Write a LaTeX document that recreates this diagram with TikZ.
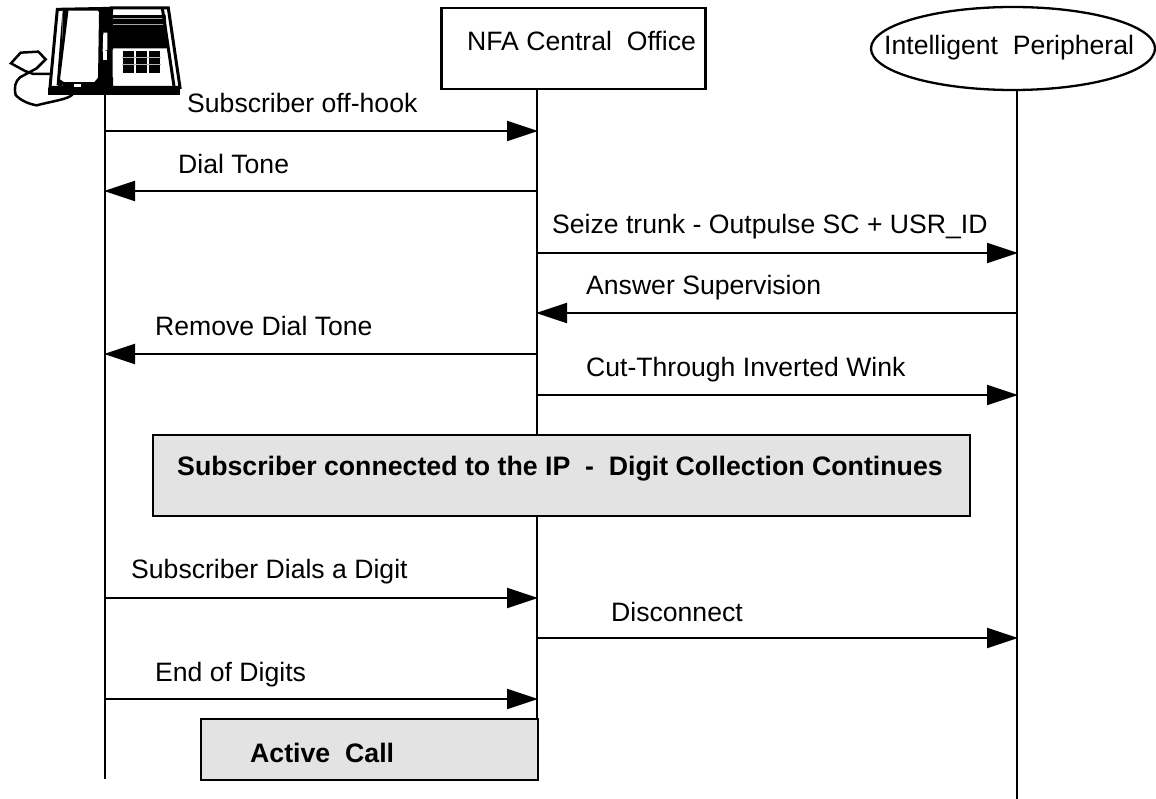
\documentclass[tikz,border=0pt]{standalone}
\usepackage{fontspec}
\setmainfont{Liberation Sans}
\usetikzlibrary{arrows.meta,shapes.geometric}
\definecolor{boxgray}{gray}{0.89}
\tikzset{
  life/.style={line width=2.3pt,black},
  msg/.style={line width=2.3pt,black,-{Triangle[length=31pt,width=20pt]},shorten >=-1pt},
  lbl/.style={anchor=base west,inner sep=0pt,font=\fontsize{26.6}{30}\selectfont},
  boldlbl/.style={anchor=base west,inner sep=0pt,font=\fontsize{26.7}{30}\selectfont\bfseries},
  headbox/.style={draw=black,line width=2.3pt,fill=white,inner sep=0pt},
  graybox/.style={draw=black,line width=2.6pt,fill=boxgray,inner sep=0pt},
}
\begin{document}
\begin{tikzpicture}[x=1pt,y=-1pt]
\useasboundingbox[fill=white] (0,0) rectangle (1156,799);
% lifeline anchors
\coordinate (phoneBot) at (105,779);
\coordinate (phoneTop) at (105,90);
\coordinate (coTop) at (537,89);
\coordinate (coBot) at (537,780);
\coordinate (ipTop) at (1017,89);
\coordinate (ipBot) at (1017,799);
\draw[life] (phoneTop) -- (phoneBot);
\draw[life] (coTop) -- (coBot);
\draw[life] (ipTop) -- (ipBot);
% head nodes
\node[headbox,minimum width=264pt,minimum height=81pt] (co) at (573.5,48.5) {};
\node[headbox,ellipse,minimum width=284pt,minimum height=83pt] (ip) at (1013,48.5) {};
\node[lbl] (cot) at (467,50.5) {NFA Central\ \ Office};
\node[lbl] (ipt) at (884,55) {Intelligent\ \ Peripheral};
% telephone
\begin{scope}[x=0.3333pt,y=-0.3333pt]
  \draw[line width=2.5pt,fill=white] (218,283) .. controls (205,298) and (160,303) .. (110,316)
     .. controls (85,312) and (60,300) .. (47,285)
     .. controls (42,262) and (45,245) .. (60,232)
     -- (110,205) -- (137,178) -- (115,155) -- (62,158) -- (33,190) -- (75,213) -- (100,222) -- (150,222);
  \fill (145,265) rectangle (540,285);
  \draw[line width=3pt,fill=white] (172,28) -- (150,262) -- (335,262) -- (335,25) -- cycle;
  \fill (188,25) rectangle (335,265);
  \fill (188,25) -- (170,255) -- (188,262) -- cycle;
  \draw[line width=2.6pt,fill=white] (202,28) -- (297,28) -- (301,36) -- (298,235) -- (285,250) -- (190,250) -- (176,240) -- cycle;
  \fill[white] (222,252) rectangle (242,262);
  \fill[white] (310,98) -- (322,98) -- (322,150) -- (308,155) -- cycle;
  \fill[white] (308,152) rectangle (322,180);
  \draw[line width=3pt,fill=white] (335,24) -- (505,24) -- (540,262) -- (335,262) -- cycle;
  \fill (338,45) -- (497,45) -- (503,145) -- (338,145) -- cycle;
  \fill[white] (340,35) rectangle (485,45);
  \draw[gray!70,line width=1pt] (338,56) -- (490,56) (338,73) -- (492,73);
  \fill[white] (338,150) -- (503,150) -- (520,232) -- (338,232) -- cycle;
  \fill (368,152) rectangle (402,218);
  \fill (408,152) rectangle (442,218);
  \fill (448,152) rectangle (480,218);
  \draw[gray!60,line width=1pt] (366,172) -- (482,172) (366,195) -- (482,195);
  \draw[line width=3pt] (487,24) -- (522,258);
\end{scope}
% message anchors
\coordinate (p1) at (105,131); \coordinate (c1) at (537,131);
\coordinate (p2) at (105,191); \coordinate (c2) at (537,191);
\coordinate (c3) at (537,253); \coordinate (i3) at (1017,253);
\coordinate (c4) at (537,313); \coordinate (i4) at (1017,313);
\coordinate (p5) at (105,354); \coordinate (c5) at (537,354);
\coordinate (c6) at (537,395); \coordinate (i6) at (1017,395);
\coordinate (p7) at (105,598); \coordinate (c7) at (537,598);
\coordinate (c8) at (537,638); \coordinate (i8) at (1017,638);
\coordinate (p9) at (105,699); \coordinate (c9) at (537,699);
\draw[msg] (p1) -- (c1);
\draw[msg] (c2) -- (p2);
\draw[msg] (c3) -- (i3);
\draw[msg] (i4) -- (c4);
\draw[msg] (c5) -- (p5);
\draw[msg] (c6) -- (i6);
\draw[msg] (p7) -- (c7);
\draw[msg] (c8) -- (i8);
\draw[msg] (p9) -- (c9);
% gray boxes
\node[graybox,minimum width=817pt,minimum height=81pt] (collect) at (561.5,475.5) {};
\node[graybox,minimum width=337pt,minimum height=61pt] (active) at (369.5,749.5) {};
% labels
\node[lbl] (t1) at (187,113) {Subscriber off-hook};
\node[lbl] (t2) at (178,174) {Dial Tone};
\node[lbl] (t3) at (552,234) {Seize trunk - Outpulse SC + USR\_ID};
\node[lbl] (t4) at (586,295) {Answer Supervision};
\node[lbl] (t5) at (155,336) {Remove Dial Tone};
\node[lbl] (t6) at (586,376) {Cut-Through Inverted Wink};
\node[boldlbl] (t7) at (177,475) {Subscriber connected to the IP\ \ -\ \ Digit Collection Continues};
\node[lbl] (t8) at (131,578) {Subscriber Dials a Digit};
\node[lbl] (t9) at (611,621) {Disconnect};
\node[lbl] (t10) at (155,681) {End of Digits};
\node[boldlbl] (t11) at (250,762) {Active\ \ Call};
\end{tikzpicture}
\end{document}
